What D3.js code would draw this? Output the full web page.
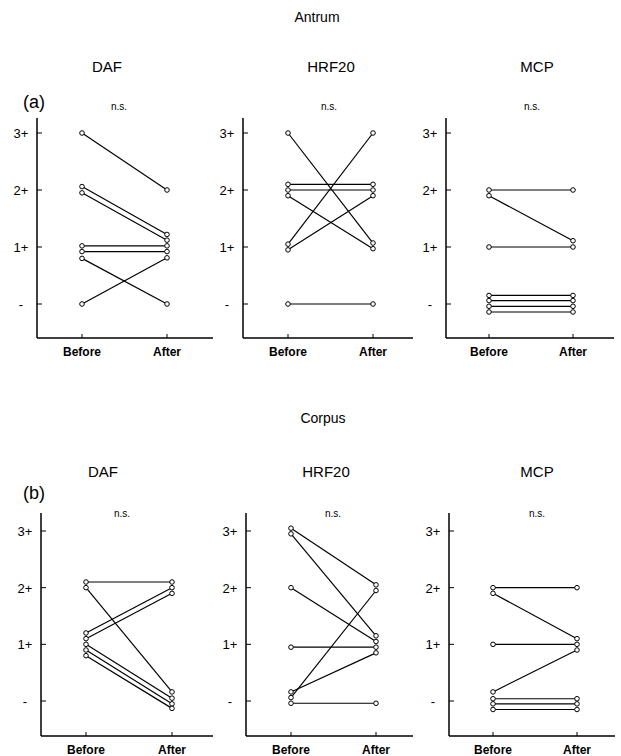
<!DOCTYPE html>
<html>
<head>
<meta charset="utf-8">
<script src="https://cdn.jsdelivr.net/npm/d3@7"></script>
<style>
  body { margin: 0; background: #fff; }
  svg { display: block; font-family: "Liberation Sans", Arial, sans-serif; }
</style>
</head>
<body>
<div id="chart"></div>
<script>
// groups on the x axis and score ticks
const groups = ["Before", "After"];
const scoreTicks = [0, 1, 2, 3];
const scoreLabels = ["-", "1+", "2+", "3+"];
const markers = ["DAF", "HRF20", "MCP"];
const regions = ["Antrum", "Corpus"];

// paired scores, index i of Before joins index i of After
const antrumDafBefore = [3, 2.06, 1.95, 1.02, 0.92, 0.8, 0];
const antrumDafAfter  = [2, 1.22, 1.12, 1.02, 0.92, 0, 0.81];
const antrumHrfBefore = [3, 2.1, 2.0, 1.9, 1.05, 0.95, 0];
const antrumHrfAfter  = [1.07, 2.1, 2.0, 0.97, 3, 1.9, 0];
const antrumMcpBefore = [2.0, 1.9, 1.0, 0.15, 0.06, -0.04, -0.14];
const antrumMcpAfter  = [2.0, 1.11, 1.0, 0.15, 0.06, -0.04, -0.14];

const corpusDafBefore = [2.1, 2.0, 1.2, 1.1, 1.0, 0.9, 0.8];
const corpusDafAfter  = [2.1, 0.16, 2.0, 1.9, 0.05, -0.05, -0.13];
const corpusHrfBefore = [3.05, 2.95, 2.0, 0.95, 0.16, 0.06, -0.04];
const corpusHrfAfter  = [2.05, 1.15, 1.05, 0.95, 0.85, 1.95, -0.04];
const corpusMcpBefore = [2.0, 1.9, 1.0, 0.16, 0.04, -0.05, -0.15];
const corpusMcpAfter  = [2.0, 1.1, 1.0, 0.9, 0.04, -0.05, -0.15];

const significance = "n.s.";

const data = [
  [[antrumDafBefore, antrumDafAfter], [antrumHrfBefore, antrumHrfAfter], [antrumMcpBefore, antrumMcpAfter]],
  [[corpusDafBefore, corpusDafAfter], [corpusHrfBefore, corpusHrfAfter], [corpusMcpBefore, corpusMcpAfter]]
];

const width = 621, height = 756;

// layout per row / column
const rows = [
  { label: "(a)", labelY: 108, headerX: 317, headerY: 22, titleY: 72, nsY: 110, top: 118, bottom: 338, y0: 304, y3: 133,
    cols: [
      { axis: 37, before: 82, after: 167, end: 213, title: 107, ns: 119 },
      { axis: 243, before: 288, after: 373, end: 413, title: 331, ns: 329 },
      { axis: 446, before: 489, after: 573, end: 614, title: 537, ns: 532 }
    ] },
  { label: "(b)", labelY: 499, headerX: 323, headerY: 423, titleY: 477, nsY: 517, top: 513, bottom: 736, y0: 701, y3: 531,
    cols: [
      { axis: 41, before: 86, after: 172, end: 213, title: 103, ns: 122 },
      { axis: 246, before: 291, after: 376, end: 413, title: 326, ns: 333 },
      { axis: 449, before: 493, after: 577, end: 615, title: 537, ns: 537 }
    ] }
];

const svg = d3.select("#chart").append("svg")
  .attr("width", width)
  .attr("height", height);

rows.forEach((row, r) => {
  svg.append("text")
    .attr("x", row.headerX).attr("y", row.headerY)
    .attr("text-anchor", "middle")
    .style("font-size", "14px")
    .text(regions[r]);

  svg.append("text")
    .attr("x", 23).attr("y", row.labelY)
    .style("font-size", "18px")
    .text(row.label);

  row.cols.forEach((c, k) => {
    const pairs = data[r][k];

    const x = d3.scalePoint().domain(groups).range([c.before, c.after]);
    const y = d3.scaleLinear().domain([0, 3]).range([row.y0, row.y3]);

    const g = svg.append("g");

    g.append("text")
      .attr("x", c.title).attr("y", row.titleY)
      .attr("text-anchor", "middle")
      .style("font-size", "15px")
      .text(markers[k]);

    g.append("text")
      .attr("x", c.ns).attr("y", row.nsY)
      .attr("text-anchor", "middle")
      .style("font-size", "10px")
      .text(significance);

    // axes
    g.append("line")
      .attr("x1", c.axis).attr("x2", c.axis)
      .attr("y1", row.top).attr("y2", row.bottom)
      .attr("stroke", "#000").attr("stroke-width", 1.5);
    g.append("line")
      .attr("x1", c.axis).attr("x2", c.end)
      .attr("y1", row.bottom).attr("y2", row.bottom)
      .attr("stroke", "#000").attr("stroke-width", 1.5);

    g.selectAll(".ytick").data(scoreTicks).enter().append("line")
      .attr("x1", c.axis).attr("x2", c.axis + 5)
      .attr("y1", d => y(d)).attr("y2", d => y(d))
      .attr("stroke", "#000").attr("stroke-width", 1);
    g.selectAll(".ylab").data(scoreTicks).enter().append("text")
      .attr("x", c.axis - 16)
      .attr("y", d => y(d) + 5)
      .attr("text-anchor", "middle")
      .style("font-size", "13px")
      .text((d, i) => scoreLabels[i]);

    g.selectAll(".xtick").data(groups).enter().append("line")
      .attr("x1", d => x(d)).attr("x2", d => x(d))
      .attr("y1", row.bottom).attr("y2", row.bottom - 4)
      .attr("stroke", "#000").attr("stroke-width", 1);
    g.selectAll(".xlab").data(groups).enter().append("text")
      .attr("x", d => x(d))
      .attr("y", row.bottom + 18)
      .attr("text-anchor", "middle")
      .style("font-size", "12px")
      .style("font-weight", "bold")
      .text(d => d);

    // paired lines
    const links = pairs[0].map((b, i) => ({ before: b, after: pairs[1][i] }));
    g.selectAll(".pair").data(links).enter().append("line")
      .attr("x1", x("Before")).attr("x2", x("After"))
      .attr("y1", d => y(d.before)).attr("y2", d => y(d.after))
      .attr("stroke", "#000").attr("stroke-width", 1.2);

    const points = links.flatMap(d => [
      { g: "Before", v: d.before },
      { g: "After", v: d.after }
    ]);
    g.selectAll(".pt").data(points).enter().append("circle")
      .attr("cx", d => x(d.g)).attr("cy", d => y(d.v))
      .attr("r", 2.3)
      .attr("fill", "#fff")
      .attr("stroke", "#000").attr("stroke-width", 1);
  });
});
</script>
</body>
</html>
